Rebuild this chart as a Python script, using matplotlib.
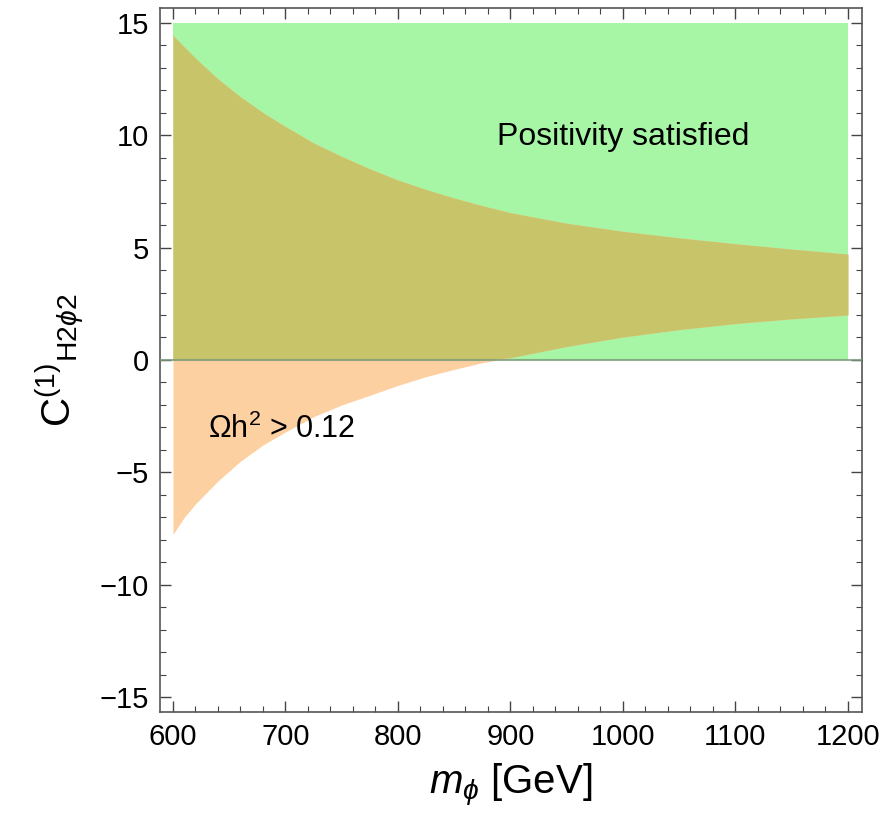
import matplotlib
matplotlib.use("Agg")
import matplotlib.pyplot as plt
from matplotlib.ticker import MultipleLocator
import numpy as np

plt.rcParams['font.family'] = ['Liberation Sans', 'DejaVu Sans']
plt.rcParams['mathtext.fontset'] = 'custom'
plt.rcParams['mathtext.rm'] = 'Liberation Sans'
plt.rcParams['mathtext.it'] = 'Liberation Sans:italic'

# region boundaries
m_phi = [600, 610, 620, 640, 660, 680, 700, 725, 750, 775, 800, 825, 850, 875,
         900, 950, 1000, 1050, 1100, 1150, 1200]
relic_upper = [14.44, 13.92, 13.42, 12.5, 11.7, 11.0, 10.38, 9.65, 9.05, 8.5, 8.0,
               7.58, 7.2, 6.86, 6.55, 6.08, 5.72, 5.43, 5.17, 4.93, 4.71]
relic_lower = [-7.75, -7.0, -6.4, -5.38, -4.5, -3.78, -3.2, -2.52, -2.0, -1.57,
               -1.13, -0.74, -0.42, -0.12, 0.1, 0.6, 1.02, 1.35, 1.62, 1.83, 2.0]
positivity_m = [600, 1200]
positivity_range = [0, 15]

m = np.array(m_phi)
up = np.array(relic_upper)
lo = np.array(relic_lower)

fig = plt.figure(figsize=(8.95, 8.25), dpi=100)
ax = fig.add_axes([0.1788, 0.137, 0.7843, 0.8533])

# positivity region
ax.fill_between(positivity_m, positivity_range[0], positivity_range[1],
                color='#a6f6a6', lw=0, zorder=1)
# relic abundance excluded region (orange) and overlap (olive)
ax.fill_between(m, lo, up, color='#fdd0a2', lw=0, zorder=2)
ax.fill_between(m, np.maximum(lo, 0), up, where=up > 0,
                color='#c8c46a', lw=0, zorder=3)

ax.axhline(0, color='#7a9a7a', lw=1.5, alpha=0.8, zorder=4)

ax.text(1000, 9.9, 'Positivity satisfied', fontsize=23, ha='center', va='center', zorder=5)
ax.text(631, -3.1, r'$\Omega$h$^2$ > 0.12', fontsize=22, ha='left', va='center', zorder=5)

ax.set_xlim(588.5, 1212.5)
ax.set_ylim(-15.65, 15.65)
ax.xaxis.set_major_locator(MultipleLocator(100))
ax.xaxis.set_minor_locator(MultipleLocator(20))
ax.yaxis.set_minor_locator(MultipleLocator(1))
ax.set_yticks([-15, -10, -5, 0, 5, 10, 15])
ax.set_yticklabels(['\u221215', '\u221210', '\u22125', '0', '5', '10', '15'])
ax.tick_params(which='both', direction='in', top=True, right=True, color='#444444')
ax.tick_params(which='major', length=8, width=1, labelsize=21, pad=8)
ax.tick_params(which='minor', length=4, width=0.8)
for s in ax.spines.values():
    s.set_color('#555555')
    s.set_linewidth(1.2)

ax.set_xlabel(r'$m_\phi$ [GeV]', fontsize=29, labelpad=8)
ax.set_ylabel(r'$\mathrm{C}^{(1)}{}_{\mathrm{H2}\phi\mathrm{2}}$', fontsize=29, labelpad=10)

fig.savefig('out.png', dpi=100)
